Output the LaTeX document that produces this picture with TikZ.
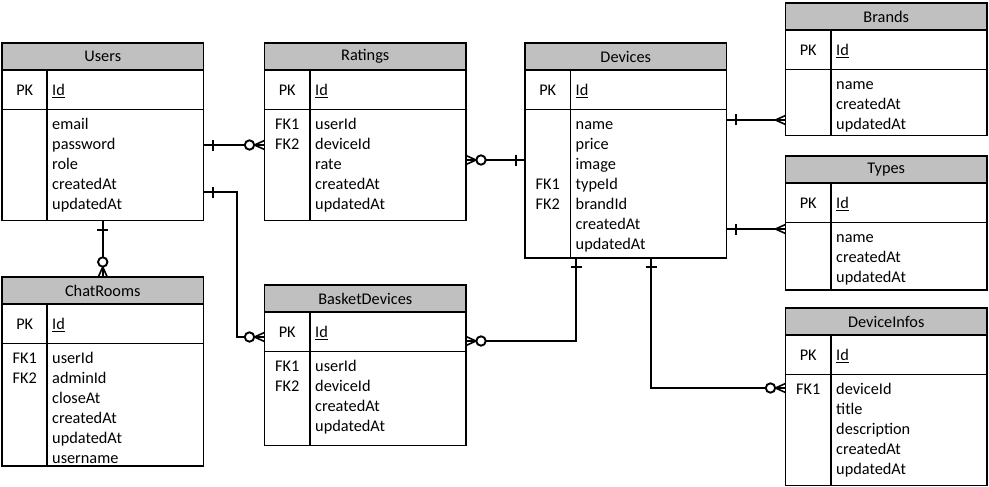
\documentclass[tikz,border=0pt]{standalone}
\usepackage{fontspec}
\setmainfont{Carlito}
\usetikzlibrary{decorations.markings}
\definecolor{hdrgray}{RGB}{192,192,192}

\begin{document}
\begin{tikzpicture}[x=1pt,y=-1pt,
	head/.style={draw, line width=1.4pt, fill=hdrgray, anchor=north west, minimum width=201.5pt,
		minimum height=27pt, inner sep=0pt, outer sep=0pt, font=\fontsize{16.3}{19}\selectfont},
	body/.style={draw, line width=1.4pt, anchor=north west, minimum width=201.5pt, inner sep=0pt, outer sep=0pt},
	rule/.style={line width=1.4pt},
	key/.style={inner sep=0pt, yshift=-1.7pt, font=\fontsize{16.3}{19}\selectfont, text height=11pt, text depth=3pt},
	field/.style={key, anchor=west},
	rel/.style={line width=2pt},
	one start/.style={postaction={decorate, decoration={markings,
		mark=at position 9pt with {\draw[line width=2pt] (0,-5.5pt) -- (0,5.5pt);}}}},
	zero many end/.style={postaction={decorate, decoration={markings,
		mark=at position 0.9999 with {\draw[line width=1.6pt] (-10pt,0) -- (0,4.5pt) (-10pt,0) -- (0,-4.5pt);
			\draw[line width=1.9pt, fill=white] (-15pt,0) circle (4.7pt);}}}},
	many end/.style={postaction={decorate, decoration={markings,
		mark=at position 0.9999 with {\draw[line width=1.6pt] (-10pt,0) -- (0,4.5pt) (-10pt,0) -- (0,-4.5pt);}}}}
	]
	\useasboundingbox (0,0) rectangle (989,487);
	
	% Users
	\node[head] (users-h) at (2,43) {Users};
	\node[body, minimum height=150.5pt] (users) at (users-h.south west) {};
	\draw[rule] (users.west |- 0,109.5) -- (users.east |- 0,109.5);
	\draw[rule] (users.north -| 47,0) -- (users.south -| 47,0);
	\node[key] (users-pk) at (24.75,89.75) {PK};
	\node[field] (users-id) at (52,89.75) {\underline{Id}};
	\foreach \f [count=\i from 0] in {email,password,role,createdAt,updatedAt}
		\node[field] (users-f\i) at (52,123.5+20*\i) {\f};
	
	% Ratings
	\node[head] (ratings-h) at (264.5,43) {Ratings};
	\node[body, minimum height=150.5pt] (ratings) at (ratings-h.south west) {};
	\draw[rule] (ratings.west |- 0,109.5) -- (ratings.east |- 0,109.5);
	\draw[rule] (ratings.north -| 310,0) -- (ratings.south -| 310,0);
	\node[key] (ratings-pk) at (287.25,89.75) {PK};
	\node[field] (ratings-id) at (315,89.75) {\underline{Id}};
	\node[key] (ratings-fk1) at (287.25,123.5) {FK1};
	\node[key] (ratings-fk2) at (287.25,143.5) {FK2};
	\foreach \f [count=\i from 0] in {userId,deviceId,rate,createdAt,updatedAt}
		\node[field] (ratings-f\i) at (315,123.5+20*\i) {\f};
	
	% Devices
	\node[head] (devices-h) at (525,43) {Devices};
	\node[body, minimum height=188pt] (devices) at (devices-h.south west) {};
	\draw[rule] (devices.west |- 0,109.5) -- (devices.east |- 0,109.5);
	\draw[rule] (devices.north -| 570.5,0) -- (devices.south -| 570.5,0);
	\node[key] (devices-pk) at (547.75,89.75) {PK};
	\node[field] (devices-id) at (575.5,89.75) {\underline{Id}};
	\node[key] (devices-fk1) at (547.75,183.5) {FK1};
	\node[key] (devices-fk2) at (547.75,203.5) {FK2};
	\foreach \f [count=\i from 0] in {name,price,image,typeId,brandId,createdAt,updatedAt}
		\node[field] (devices-f\i) at (575.5,123.5+20*\i) {\f};
	
	% Brands
	\node[head] (brands-h) at (785.5,3) {Brands};
	\node[body, minimum height=105.5pt] (brands) at (brands-h.south west) {};
	\draw[rule] (brands.west |- 0,69.5) -- (brands.east |- 0,69.5);
	\draw[rule] (brands.north -| 831,0) -- (brands.south -| 831,0);
	\node[key] (brands-pk) at (808.25,49.75) {PK};
	\node[field] (brands-id) at (836,49.75) {\underline{Id}};
	\foreach \f [count=\i from 0] in {name,createdAt,updatedAt}
		\node[field] (brands-f\i) at (836,83.5+20*\i) {\f};
	
	% Types
	\node[head] (types-h) at (785.5,156) {Types};
	\node[body, minimum height=107pt] (types) at (types-h.south west) {};
	\draw[rule] (types.west |- 0,222.5) -- (types.east |- 0,222.5);
	\draw[rule] (types.north -| 831,0) -- (types.south -| 831,0);
	\node[key] (types-pk) at (808.25,202.75) {PK};
	\node[field] (types-id) at (836,202.75) {\underline{Id}};
	\foreach \f [count=\i from 0] in {name,createdAt,updatedAt}
		\node[field] (types-f\i) at (836,236.5+20*\i) {\f};
	
	% DeviceInfos
	\node[head] (infos-h) at (785.5,308) {DeviceInfos};
	\node[body, minimum height=150.5pt] (infos) at (infos-h.south west) {};
	\draw[rule] (infos.west |- 0,374.5) -- (infos.east |- 0,374.5);
	\draw[rule] (infos.north -| 831,0) -- (infos.south -| 831,0);
	\node[key] (infos-pk) at (808.25,354.75) {PK};
	\node[field] (infos-id) at (836,354.75) {\underline{Id}};
	\node[key] (infos-fk1) at (808.25,388.5) {FK1};
	\foreach \f [count=\i from 0] in {deviceId,title,description,createdAt,updatedAt}
		\node[field] (infos-f\i) at (836,388.5+20*\i) {\f};
	
	% ChatRooms
	\node[head] (chat-h) at (2,277) {ChatRooms};
	\node[body, minimum height=162pt] (chat) at (chat-h.south west) {};
	\draw[rule] (chat.west |- 0,343.5) -- (chat.east |- 0,343.5);
	\draw[rule] (chat.north -| 47,0) -- (chat.south -| 47,0);
	\node[key] (chat-pk) at (24.75,323.75) {PK};
	\node[field] (chat-id) at (52,323.75) {\underline{Id}};
	\node[key] (chat-fk1) at (24.75,357.5) {FK1};
	\node[key] (chat-fk2) at (24.75,377.5) {FK2};
	\foreach \f [count=\i from 0] in {userId,adminId,closeAt,createdAt,updatedAt,username}
		\node[field] (chat-f\i) at (52,357.5+20*\i) {\f};
	
	% BasketDevices
	\node[head] (basket-h) at (264.5,285) {BasketDevices};
	\node[body, minimum height=133.5pt] (basket) at (basket-h.south west) {};
	\draw[rule] (basket.west |- 0,351.5) -- (basket.east |- 0,351.5);
	\draw[rule] (basket.north -| 310,0) -- (basket.south -| 310,0);
	\node[key] (basket-pk) at (287.25,331.75) {PK};
	\node[field] (basket-id) at (315,331.75) {\underline{Id}};
	\node[key] (basket-fk1) at (287.25,365.5) {FK1};
	\node[key] (basket-fk2) at (287.25,385.5) {FK2};
	\foreach \f [count=\i from 0] in {userId,deviceId,createdAt,updatedAt}
		\node[field] (basket-f\i) at (315,365.5+20*\i) {\f};
	
	% relations
	\draw[rel, one start, zero many end] (users.east |- 0,145) -- (ratings.west |- 0,145);
	\draw[rel, one start, zero many end] (users.east |- 0,192) -| (237,337) -- (basket.west |- 0,337);
	\draw[rel, one start, zero many end] (users.south) -- (chat-h.north);
	\draw[rel, one start, zero many end] (devices.west |- 0,160) -- (ratings.east |- 0,160);
	\draw[rel, one start, many end] (devices.east |- 0,120) -- (brands.west |- 0,120);
	\draw[rel, one start, many end] (devices.east |- 0,229) -- (types.west |- 0,229);
	\draw[rel, one start, zero many end] (devices.south -| 576,0) |- (basket.east |- 0,341);
	\draw[rel, one start, zero many end] (devices.south -| 651,0) |- (infos.west |- 0,388);
	
\end{tikzpicture}
\end{document}
